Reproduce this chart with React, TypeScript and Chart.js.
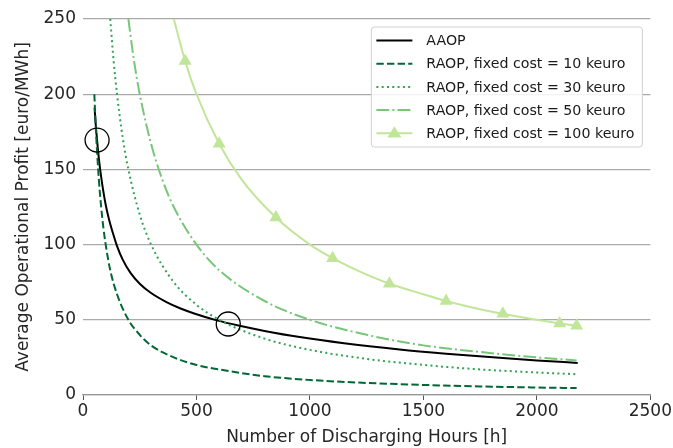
import React, { useEffect, useRef } from "react";
import { Chart, registerables } from "chart.js";

Chart.register(...registerables);

// ---- Data ----
const aaopHours = [51, 56, 62, 70, 80, 90, 100, 115, 130, 150, 175, 210, 250, 300, 370, 430, 490, 590, 690, 800, 955, 1150, 1395, 1600, 1835, 2000, 2180];
const aaopProfit = [191, 180, 169.5, 157, 145, 135, 126.5, 116.5, 108.5, 99, 90, 81, 74, 67.8, 61.6, 57.5, 54.2, 49.6, 46, 42.6, 38.5, 34.4, 30.3, 27.5, 24.7, 23, 21.3];

const raop10Hours = [50, 55, 60, 70, 80, 90, 100, 120, 150, 200, 250, 300, 400, 500, 600, 800, 1000, 1250, 1500, 1750, 2000, 2175];
const raop10Profit = [200, 182, 167, 143, 125, 111, 100, 83, 67, 50, 40, 33, 25, 20, 17, 12.5, 10, 8, 6.7, 5.7, 5, 4.6];

const raop30Hours = [120, 135, 150, 175, 200, 250, 300, 400, 500, 600, 800, 1000, 1250, 1500, 1750, 2000, 2175];
const raop30Profit = [250, 222, 200, 171, 150, 120, 100, 75, 60, 50, 37.5, 30, 24, 20, 17, 15, 13.8];

const raop50Hours = [200, 225, 250, 300, 350, 400, 500, 600, 800, 1000, 1250, 1500, 1750, 2000, 2175];
const raop50Profit = [250, 222, 200, 167, 143, 125, 100, 83, 62.5, 50, 40, 33, 28.6, 25, 23];

const raop100Hours = [400, 450, 500, 600, 700, 850, 1000, 1100, 1250, 1350, 1500, 1600, 1750, 1850, 2000, 2100, 2175];
const raop100Profit = [250, 222, 200, 167, 143, 118, 100, 91, 80, 74, 67, 62.5, 57, 54, 50, 47.6, 46];
const raop100MarkerHours = [450, 600, 850, 1100, 1350, 1600, 1850, 2100, 2175];

const circleHours = [62, 640];
const circleProfit = [169.5, 47.2];

const seriesLabels = [
  "AAOP",
  "RAOP, fixed cost = 10 keuro",
  "RAOP, fixed cost = 30 keuro",
  "RAOP, fixed cost = 50 keuro",
  "RAOP, fixed cost = 100 keuro",
];
const xTicks = [0, 500, 1000, 1500, 2000, 2500];
const yTicks = [0, 50, 100, 150, 200, 250];

const xTitle = "Number of Discharging Hours [h]";
const yTitle = "Average Operational Profit [euro/MWh]";

// ---- Styles ----
const FONT = "'DejaVu Sans', sans-serif";
const colors = ["#000000", "#006837", "#31a354", "#78c679", "#c2e699"];
const dashes: number[][] = [[], [7.4, 3.2], [2, 3.3], [12.8, 3.2, 2, 3.2], []];

const zip = (xs: number[], ys: number[]) => xs.map((x, i) => ({ x, y: ys[i] }));

const legendPlugin = {
  id: "customLegend",
  afterDraw(chart: any) {
    const { ctx, chartArea } = chart;
    const w = 271;
    const h = 120;
    const x0 = chartArea.right - w - 8;
    const y0 = chartArea.top + 8;
    ctx.save();
    ctx.beginPath();
    const r = 3;
    ctx.moveTo(x0 + r, y0);
    ctx.lineTo(x0 + w - r, y0);
    ctx.quadraticCurveTo(x0 + w, y0, x0 + w, y0 + r);
    ctx.lineTo(x0 + w, y0 + h - r);
    ctx.quadraticCurveTo(x0 + w, y0 + h, x0 + w - r, y0 + h);
    ctx.lineTo(x0 + r, y0 + h);
    ctx.quadraticCurveTo(x0, y0 + h, x0, y0 + h - r);
    ctx.lineTo(x0, y0 + r);
    ctx.quadraticCurveTo(x0, y0, x0 + r, y0);
    ctx.closePath();
    ctx.fillStyle = "rgba(255,255,255,0.85)";
    ctx.fill();
    ctx.strokeStyle = "#d0d0d0";
    ctx.lineWidth = 1;
    ctx.stroke();

    ctx.font = `14.2px ${FONT}`;
    ctx.textBaseline = "middle";
    seriesLabels.forEach((label, i) => {
      const yy = y0 + 13.5 + i * 23.2;
      ctx.beginPath();
      ctx.setLineDash(dashes[i]);
      ctx.strokeStyle = colors[i];
      ctx.lineWidth = 2;
      ctx.moveTo(x0 + 5, yy);
      ctx.lineTo(x0 + 41, yy);
      ctx.stroke();
      ctx.setLineDash([]);
      if (i === 4) {
        const cx = x0 + 23;
        const s = 7;
        ctx.beginPath();
        ctx.moveTo(cx, yy - s);
        ctx.lineTo(cx + s, yy + s * 0.6);
        ctx.lineTo(cx - s, yy + s * 0.6);
        ctx.closePath();
        ctx.fillStyle = colors[i];
        ctx.fill();
      }
      ctx.fillStyle = "#1a1a1a";
      ctx.fillText(label, x0 + 55, yy + 1);
    });
    ctx.restore();
  },
};

export default function App() {
  const canvasRef = useRef<HTMLCanvasElement>(null);

  useEffect(() => {
    document.body.style.margin = "0";
    const canvas = canvasRef.current;
    if (!canvas) return;

    const lineDs = (data: any[], i: number) => ({
      label: seriesLabels[i],
      data,
      borderColor: colors[i],
      backgroundColor: colors[i],
      borderWidth: 2,
      borderDash: dashes[i],
      pointRadius: 0,
      fill: false,
      cubicInterpolationMode: "monotone" as const,
      showLine: true,
      order: 5 - i,
    });

    const ds100: any = lineDs(zip(raop100Hours, raop100Profit), 4);
    ds100.pointStyle = "triangle";
    ds100.pointRadius = (c: any) =>
      raop100MarkerHours.includes(raop100Hours[c.dataIndex]) ? 7.5 : 0;
    ds100.pointBorderWidth = 0;
    ds100.pointBackgroundColor = colors[4];

    const chart = new Chart(canvas, {
      type: "scatter",
      data: {
        datasets: [
          lineDs(zip(aaopHours, aaopProfit), 0),
          lineDs(zip(raop10Hours, raop10Profit), 1),
          lineDs(zip(raop30Hours, raop30Profit), 2),
          lineDs(zip(raop50Hours, raop50Profit), 3),
          ds100,
          {
            label: "circles",
            data: zip(circleHours, circleProfit),
            showLine: false,
            pointStyle: "circle",
            pointRadius: 12,
            pointBorderWidth: 1.3,
            pointBorderColor: "#000",
            pointBackgroundColor: "rgba(0,0,0,0)",
            order: 0,
          } as any,
        ],
      },
      options: {
        animation: false,
        responsive: false,
        maintainAspectRatio: false,
        layout: { padding: { left: 0, right: 22, top: 19, bottom: 0 } },
        plugins: {
          legend: { display: false },
          tooltip: { enabled: false },
        },
        scales: {
          x: {
            type: "linear",
            min: 0,
            max: 2500,
            afterBuildTicks: (s: any) => {
              s.ticks = xTicks.map((v) => ({ value: v }));
            },
            afterFit: (s: any) => {
              s.height = 53;
            },
            ticks: {
              font: { family: FONT, size: 17 },
              color: "#262626",
              padding: 1,
              maxRotation: 0,
              callback: (v: any) => String(v),
            },
            grid: {
              display: true,
              drawOnChartArea: false,
              drawTicks: true,
              tickLength: 5,
              color: "#555",
              lineWidth: 1,
            },
            border: { display: true, color: "#999", width: 1.3 },
            title: {
              display: true,
              text: xTitle,
              font: { family: FONT, size: 17 },
              color: "#262626",
              padding: { top: 0, bottom: 0 },
            },
          },
          y: {
            type: "linear",
            min: 0,
            max: 250,
            afterBuildTicks: (s: any) => {
              s.ticks = yTicks.map((v) => ({ value: v }));
            },
            afterFit: (s: any) => {
              s.width = 83;
            },
            ticks: {
              font: { family: FONT, size: 17 },
              color: "#262626",
              padding: 7,
              callback: (v: any) => String(v),
            },
            grid: {
              display: true,
              drawTicks: false,
              color: "#aaaaaa",
              lineWidth: 1.3,
            },
            border: { display: false },
            title: {
              display: true,
              text: yTitle,
              font: { family: FONT, size: 17 },
              color: "#262626",
              padding: { top: 13, bottom: 0 },
            },
          },
        },
      },
      plugins: [legendPlugin],
    });

    return () => chart.destroy();
  }, []);

  return (
    <div style={{ width: 673, height: 448 }}>
      <canvas ref={canvasRef} width={673} height={448} style={{ width: 673, height: 448, display: "block" }} />
    </div>
  );
}
